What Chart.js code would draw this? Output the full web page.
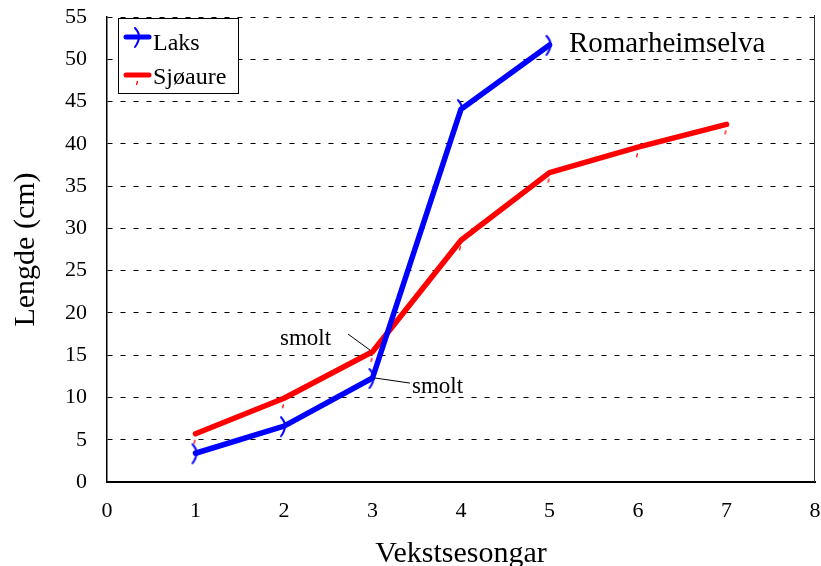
<!DOCTYPE html>
<html><head><meta charset="utf-8">
<script src="https://cdn.jsdelivr.net/npm/chart.js@4/dist/chart.umd.min.js"></script>
<style>html,body{margin:0;padding:0;background:#fff}canvas{display:block}</style>
</head><body>
<canvas id="c" width="821" height="566"></canvas>
<script>
// ---- data ----
const laksSeasons = [1, 2, 3, 4, 5];
const laksLength = [3.4, 6.6, 12.3, 44.1, 51.7];
const sjoaureSeasons = [1, 2, 3, 4, 5, 6, 7];
const sjoaureLength = [5.7, 9.9, 15.4, 28.6, 36.6, 39.6, 42.3];
const seriesNames = ['Laks', 'Sjøaure'];
const xTickValues = [0, 1, 2, 3, 4, 5, 6, 7, 8];
const yTickValues = [0, 5, 10, 15, 20, 25, 30, 35, 40, 45, 50, 55];
const chartTitle = 'Romarheimselva';
const xAxisTitle = 'Vekstsesongar';
const yAxisTitle = 'Lengde (cm)';
const noteText = 'smolt';

// annotation anchors in data units
const notes = [
  { text: noteText, at: [1.955, 16.2], from: [2.723, 17.5], to: [2.972, 15.6] },
  { text: noteText, at: [3.446, 10.5], from: [3.028, 12.3], to: [3.424, 11.7] }
];
const titleAt = [5.22, 50.86];

const FONT = '"Liberation Serif", "Times New Roman", serif';

function arcMarker(color) {
  const c = document.createElement('canvas');
  c.width = 14; c.height = 24;
  const g = c.getContext('2d');
  g.strokeStyle = color; g.lineWidth = 2; g.lineCap = 'round';
  g.beginPath(); g.moveTo(4, 3); g.quadraticCurveTo(12, 11, 4, 22); g.stroke();
  return c;
}
function tickMarker(color) {
  const c = document.createElement('canvas');
  c.width = 10; c.height = 26;
  const g = c.getContext('2d');
  g.strokeStyle = color; g.lineWidth = 1.3;
  g.beginPath(); g.moveTo(4.5, 19); g.lineTo(3.5, 23); g.stroke();
  return c;
}
const blueMark = arcMarker('#0000ff');
const redMark = tickMarker('#ff0000');

function zeroPad(s) { s.paddingTop = 0; s.paddingBottom = 0; s.paddingLeft = 0; s.paddingRight = 0; }

const extras = {
  id: 'extras',
  afterDatasetsDraw(chart) {
    const { ctx, chartArea: a, scales: { x, y } } = chart;
    ctx.save();
    // right frame line
    ctx.strokeStyle = '#333'; ctx.lineWidth = 1;
    ctx.beginPath(); ctx.moveTo(a.right - 0.5, a.top - 2); ctx.lineTo(a.right - 0.5, a.bottom); ctx.stroke();
    // title inside plot
    ctx.fillStyle = '#000'; ctx.textAlign = 'left'; ctx.textBaseline = 'alphabetic';
    ctx.font = '29px ' + FONT;
    ctx.fillText(chartTitle, x.getPixelForValue(titleAt[0]), y.getPixelForValue(titleAt[1]));
    // smolt notes
    ctx.font = '23px ' + FONT;
    ctx.lineWidth = 1; ctx.strokeStyle = '#000';
    notes.forEach(n => {
      ctx.fillText(n.text, x.getPixelForValue(n.at[0]), y.getPixelForValue(n.at[1]));
      ctx.beginPath();
      ctx.moveTo(x.getPixelForValue(n.from[0]), y.getPixelForValue(n.from[1]));
      ctx.lineTo(x.getPixelForValue(n.to[0]), y.getPixelForValue(n.to[1]));
      ctx.stroke();
    });
    // legend box
    const bx = a.left + 11, by = a.top + 1, bw = 120, bh = 75;
    ctx.fillStyle = '#fff'; ctx.fillRect(bx, by, bw, bh);
    ctx.strokeStyle = '#000'; ctx.lineWidth = 1;
    ctx.strokeRect(bx + 0.5, by + 0.5, bw, bh);
    const rows = [
      { ds: chart.data.datasets[0], ly: by + 19, ty: by + 32, img: blueMark },
      { ds: chart.data.datasets[1], ly: by + 57, ty: by + 66, img: redMark }
    ];
    rows.forEach(r => {
      ctx.strokeStyle = r.ds.borderColor; ctx.lineWidth = 5; ctx.lineCap = 'round';
      ctx.beginPath(); ctx.moveTo(bx + 8, r.ly); ctx.lineTo(bx + 31, r.ly); ctx.stroke();
      ctx.drawImage(r.img, bx + 20 - r.img.width / 2, r.ly - r.img.height / 2);
      ctx.fillStyle = '#000'; ctx.font = '24px ' + FONT;
      ctx.textAlign = 'left'; ctx.textBaseline = 'alphabetic';
      ctx.fillText(r.ds.label, bx + 35, r.ty);
    });
    ctx.restore();
  }
};

new Chart(document.getElementById('c'), {
  type: 'line',
  data: {
    datasets: [
      {
        label: seriesNames[0],
        data: laksSeasons.map((s, i) => ({ x: s, y: laksLength[i] })),
        borderColor: '#0000ff', borderWidth: 5.5, borderCapStyle: 'round', borderJoinStyle: 'round',
        pointStyle: blueMark, pointRadius: 8, fill: false, tension: 0
      },
      {
        label: seriesNames[1],
        data: sjoaureSeasons.map((s, i) => ({ x: s, y: sjoaureLength[i] })),
        borderColor: '#ff0000', borderWidth: 5.5, borderCapStyle: 'round', borderJoinStyle: 'round',
        pointStyle: redMark, pointRadius: 8, fill: false, tension: 0
      }
    ]
  },
  options: {
    responsive: false, animation: false,
    layout: { autoPadding: false, padding: { top: 17, right: 6, left: 0, bottom: 0 } },
    plugins: { legend: { display: false }, tooltip: { enabled: false } },
    scales: {
      x: {
        type: 'linear', min: 0, max: 8,
        afterBuildTicks: s => { s.ticks = xTickValues.map(v => ({ value: v })); },
        afterFit: s => { s.height = 84; zeroPad(s); },
        ticks: { color: '#000', font: { family: FONT, size: 22 }, padding: 16, maxRotation: 0, autoSkip: false },
        grid: { display: false, drawTicks: false },
        border: { display: true, color: '#000', width: 2 },
        title: { display: true, text: xAxisTitle, color: '#000', font: { family: FONT, size: 30, lineHeight: 1 }, padding: { top: 0, bottom: -3 } }
      },
      y: {
        type: 'linear', min: 0, max: 55,
        afterBuildTicks: s => { s.ticks = yTickValues.map(v => ({ value: v })); },
        afterFit: s => { s.width = 107; zeroPad(s); },
        ticks: { color: '#000', font: { family: FONT, size: 22 }, padding: 20, autoSkip: false },
        grid: { color: '#000', lineWidth: 1, drawTicks: false },
        border: { display: true, color: '#000', width: 1.5, dash: [5, 8] },
        title: { display: true, text: yAxisTitle, color: '#000', font: { family: FONT, size: 30, lineHeight: 1 }, padding: { top: 11, bottom: 0 } }
      }
    }
  },
  plugins: [extras]
});
</script>
</body></html>
